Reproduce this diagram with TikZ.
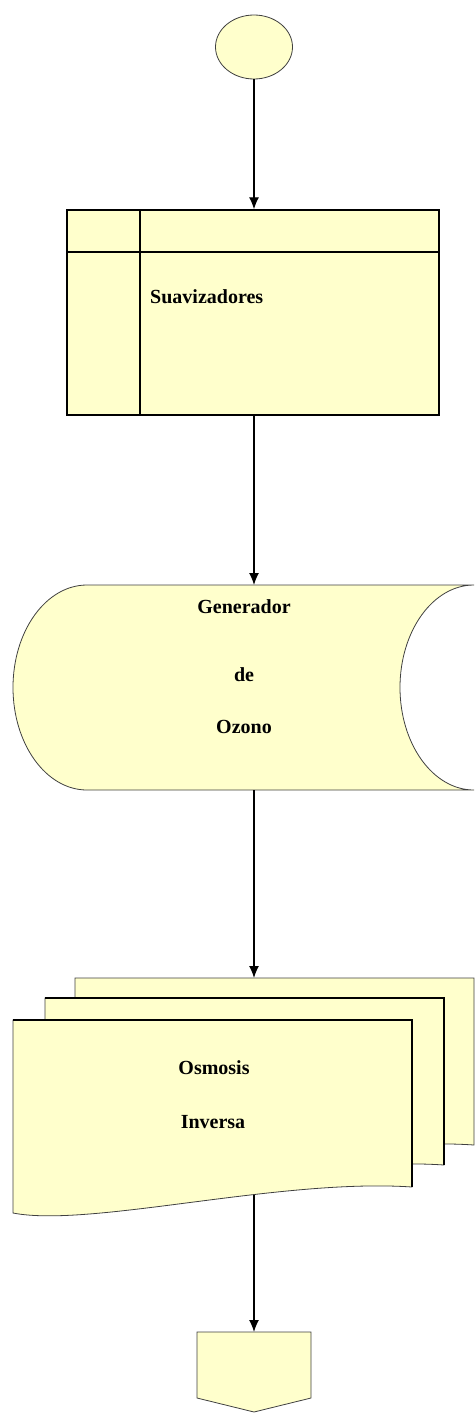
\documentclass[tikz,border=0pt]{standalone}
\usepackage{fontspec}
\setmainfont{Liberation Serif}
\usetikzlibrary{arrows.meta,shapes.geometric}
\definecolor{relleno}{RGB}{255,255,204}
\tikzset{
  forma/.style={draw=black!75,fill=relleno,line width=.8pt},
  borde/.style={draw=black,line width=1.4pt},
  flecha/.style={->,line width=1.3pt},
  txt/.style={font=\fontsize{20}{24}\selectfont\bfseries,inner sep=0pt}
}
\begin{document}
\begin{tikzpicture}[x=1pt,y=-1pt,>={Latex[length=12pt,width=10pt]}]
  \useasboundingbox (0,0) rectangle (475,1413);
  \node[forma,ellipse,minimum width=77pt,minimum height=64pt,inner sep=0pt] (inicio) at (254,47) {};
  \node[forma,borde,minimum width=372pt,minimum height=205pt] (suav) at (253,312.5) {};
  \draw[borde] (140,210) -- (140,415) (67,252) -- (439,252);
  \node[txt,anchor=west] (suavtxt) at (150,297) {Suavizadores};
  \draw[forma] (87,585) .. controls (46,585) and (13,631) .. (13,687.5)
    .. controls (13,744) and (46,790) .. (87,790) -- (474,790)
    .. controls (433,790) and (400,744) .. (400,687.5)
    .. controls (400,631) and (433,585) .. (474,585) -- cycle;
  \coordinate (genN) at (254,585);
  \coordinate (genS) at (254,790);
  \node[txt] (gen1) at (244,607) {Generador};
  \node[txt] (gen2) at (244,675) {de};
  \node[txt] (gen3) at (244,727) {Ozono};
  \foreach \dx/\dy in {62/-42,32/-22,0/0}{
    \draw[forma,shift={(\dx,\dy)}] (13,1020) -- (412,1020) -- (412,1187)
      .. controls (280,1178) and (90,1228) .. (13,1213) -- cycle;
    \ifnum\dx<40
      \draw[borde,shift={(\dx,\dy)}] (13,1020) -- (412,1020) -- (412,1187);
    \fi}
  \coordinate (osmN) at (254,978);
  \coordinate (osmS) at (254,1195);
  \node[txt] (osm1) at (214,1068) {Osmosis};
  \node[txt] (osm2) at (213,1122) {Inversa};
  \draw[forma] (197,1332) -- (311,1332) -- (311,1398) -- (254,1412) -- (197,1398) -- cycle;
  \coordinate (finN) at (254,1332);
  \draw[flecha] (inicio.south) -- (inicio.south |- suav.north);
  \draw[flecha] (inicio.south |- suav.south) -- (genN);
  \draw[flecha] (genS) -- (osmN);
  \draw[flecha] (osmS) -- (finN);
\end{tikzpicture}
\end{document}
